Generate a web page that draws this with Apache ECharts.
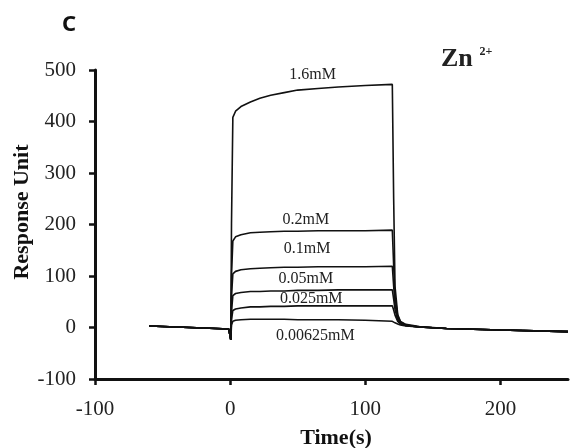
<!DOCTYPE html>
<html>
<head>
<meta charset="utf-8">
<script src="https://cdn.jsdelivr.net/npm/echarts@6/dist/echarts.min.js"></script>
<style>
  html, body { margin: 0; padding: 0; background: #fff; }
  #main { width: 571px; height: 448px; }
</style>
</head>
<body>
<div id="main"></div>
<script>
// time points (s), shared by every curve
var times = [-60, -40, -20, -1, 0, 0.5, 1, 2, 4, 8, 15, 22, 30, 40, 50, 65, 80, 100, 120, 121, 122, 124, 126, 130, 140, 160, 200, 250];

// response units for each concentration
var r_1_6 = [3, 1, -1, -3, -4, -24, 200, 408, 420, 429, 438, 445, 451, 456, 461, 464, 467, 470, 472, 250, 80, 25, 12, 6, 2, -2, -5, -8];
var r_0_2 = [3, 1, -1, -3, -4, -24, 100, 168, 176, 180, 184, 185, 186, 187, 187, 188, 188, 188, 189, 120, 60, 22, 11, 5, 1, -2, -5, -8];
var r_0_1 = [3, 1, -1, -3, -4, -24, 60, 104, 109, 112, 114, 115, 116, 117, 117, 118, 118, 118, 119, 80, 45, 18, 9, 4, 1, -2, -5, -8];
var r_0_05 = [3, 1, -1, -3, -4, -24, 30, 62, 66, 68, 70, 70, 71, 71, 72, 72, 73, 73, 73, 55, 35, 15, 8, 4, 1, -2, -5, -8];
var r_0_025 = [3, 1, -1, -3, -4, -24, 15, 33, 36, 38, 40, 40, 41, 41, 42, 42, 42, 42, 42, 34, 24, 12, 7, 4, 1, -2, -5, -8];
var r_0_00625 = [3, 1, -1, -3, -4, -24, 5, 12, 14, 15, 16, 16, 16, 16, 15, 15, 15, 14, 12, 11, 9, 7, 5, 3, 1, -2, -5, -8];

var names = ['1.6mM', '0.2mM', '0.1mM', '0.05mM', '0.025mM', '0.00625mM'];
var curves = [r_1_6, r_0_2, r_0_1, r_0_05, r_0_025, r_0_00625];

// where each concentration label sits (data coords)
var labelT = [61, 56, 57, 56, 60, 63];
var labelV = [490, 210, 152, 95, 56, -16];

var xTicks = [-100, 0, 100, 200];

var serif = '"Liberation Serif", "DejaVu Serif", serif';

var myChart = echarts.init(document.getElementById('main'));

var series = [];
for (var i = 0; i < curves.length; i++) {
    var data = [];
    for (var j = 0; j < times.length; j++) {
        data.push([times[j], curves[i][j]]);
    }
    series.push({
        name: names[i],
        type: 'line',
        data: data,
        showSymbol: false,
        lineStyle: { color: '#111', width: 1.6 },
        markPoint: {
            symbol: 'circle',
            symbolSize: 0,
            label: {
                show: true,
                position: 'inside',
                formatter: '{b}',
                color: '#222',
                fontFamily: serif,
                fontSize: 16
            },
            data: [{ name: names[i], coord: [labelT[i], labelV[i]] }]
        }
    });
}

var option = {
    animation: false,
    backgroundColor: '#fff',
    grid: { left: 95, right: 3, top: 70, bottom: 69, outerBoundsMode: 'none', containLabel: false },
    xAxis: {
        type: 'value',
        min: -100,
        max: 250,
        interval: 100,
        name: 'Time(s)',
        nameLocation: 'middle',
        nameGap: 48,
        nameTextStyle: { fontFamily: serif, fontWeight: 'bold', fontSize: 22, color: '#111', padding: [0, 0, 0, 9] },
        splitLine: { show: false },
        axisLine: { onZero: false, lineStyle: { color: '#111', width: 3 } },
        axisTick: { length: 6, lineStyle: { width: 2.5, color: '#111' }, customValues: xTicks },
        axisLabel: { margin: 20, fontFamily: serif, fontSize: 21, color: '#222', customValues: xTicks }
    },
    yAxis: {
        type: 'value',
        min: -100,
        max: 500,
        interval: 100,
        name: 'Response Unit',
        nameLocation: 'middle',
        nameGap: 62,
        nameMoveOverlap: false,
        nameTextStyle: { fontFamily: serif, fontWeight: 'bold', fontSize: 22, color: '#111', padding: [0, 0, 0, 25] },
        splitLine: { show: false },
        axisLine: { show: true, onZero: false, lineStyle: { color: '#111', width: 3 } },
        axisTick: { show: true, length: 6, lineStyle: { width: 2.5, color: '#111' } },
        axisLabel: { margin: 19, fontFamily: serif, fontSize: 21, color: '#222' }
    },
    graphic: [
        {
            type: 'text', left: 62, top: 14,
            style: { text: 'C', font: 'bold 22px "Noto Sans", sans-serif', fill: '#111' }
        },
        {
            type: 'text', left: 441, top: 46,
            style: {
                text: '{a|Zn}  {b|2+}',
                rich: {
                    a: { font: 'bold 26px ' + serif, fill: '#222' },
                    b: { font: 'bold 12px ' + serif, fill: '#222', verticalAlign: 'top', padding: [0, 0, 12, 0] }
                }
            }
        }
    ],
    series: series
};

myChart.setOption(option);
</script>
</body>
</html>
